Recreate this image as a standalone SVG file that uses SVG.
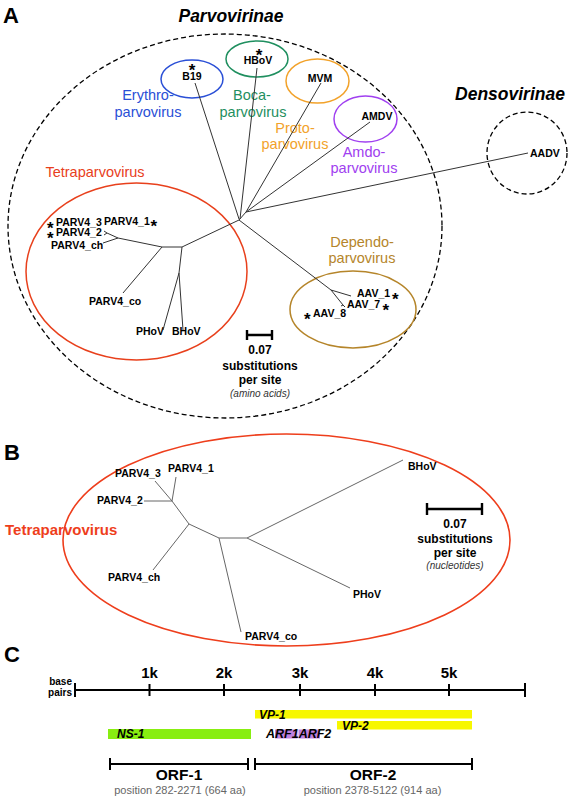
<svg xmlns="http://www.w3.org/2000/svg" width="571" height="800" viewBox="0 0 571 800">
<style>
text{font-family:"Liberation Sans",Arial,Helvetica,sans-serif}
.pl{font-size:22px;font-weight:bold}
.sub{font-size:17.5px;font-weight:bold;font-style:italic;text-anchor:middle}
.lb{font-size:10.5px;font-weight:bold}
.s{font-size:17px;font-weight:bold}
.gn{font-size:14.5px;text-anchor:middle}
.br{stroke:#333;stroke-width:1;fill:none}
.brb{stroke:#666;stroke-width:1;fill:none}
.dash{fill:none;stroke:#000;stroke-width:1.3;stroke-dasharray:5,3}
.sc{stroke:#000;stroke-width:2.4;fill:none}
.scl{font-size:12px;font-weight:bold;text-anchor:middle}
.sci{font-size:10px;font-style:italic;text-anchor:middle;fill:#333}
.ax{stroke:#000;stroke-width:2;fill:none}
.kl{font-size:15px;font-weight:bold;text-anchor:middle}
.gl{font-size:12px;font-weight:bold;font-style:italic}
.orf{font-size:15.5px;font-weight:bold;text-anchor:middle}
.pos{font-size:11px;text-anchor:middle;fill:#666}
</style>

<!-- Panel letters and titles -->
<text class="pl" x="3" y="23">A</text>
<text class="pl" x="4" y="460">B</text>
<text class="pl" x="4" y="662">C</text>

<g id="parvovirinae">
  <ellipse class="dash" cx="225" cy="226" rx="217" ry="192"/>
  <text class="sub" x="231" y="22">Parvovirinae</text>
</g>
<g id="densovirinae">
  <ellipse class="dash" cx="527" cy="153" rx="40" ry="41"/>
  <text class="sub" x="510" y="100">Densovirinae</text>
  <text class="lb" x="530" y="157">AADV</text>
</g>

<g id="erythroparvovirus">
  <ellipse cx="192" cy="79" rx="31" ry="19" fill="none" stroke="#2a4fd6" stroke-width="1.5"/>
  <text class="lb" text-anchor="middle"><tspan class="s" x="192" y="75.5">*</tspan><tspan x="192" y="80">B19</tspan></text>
  <text class="gn" x="148" y="100" fill="#2a4fd6">Erythro-</text>
  <text class="gn" x="148" y="117" fill="#2a4fd6">parvovirus</text>
</g>
<g id="bocaparvovirus">
  <ellipse cx="257" cy="59" rx="31" ry="18" fill="none" stroke="#1f8f5f" stroke-width="1.5"/>
  <text class="lb" text-anchor="middle"><tspan class="s" x="259" y="60.5">*</tspan><tspan x="258" y="64">HBoV</tspan></text>
  <text class="gn" x="252" y="100" fill="#1f8f5f">Boca-</text>
  <text class="gn" x="253" y="117" fill="#1f8f5f">parvovirus</text>
</g>
<g id="protoparvovirus">
  <ellipse cx="317.5" cy="81" rx="31.5" ry="22" fill="none" stroke="#f2a22a" stroke-width="1.5"/>
  <text class="lb" x="320" y="82" text-anchor="middle">MVM</text>
  <text class="gn" x="295" y="133" fill="#f2a22a">Proto-</text>
  <text class="gn" x="295" y="149" fill="#f2a22a">parvovirus</text>
</g>
<g id="amdoparvovirus">
  <ellipse cx="365.5" cy="119" rx="31.5" ry="23" fill="none" stroke="#a040f0" stroke-width="1.5"/>
  <text class="lb" x="377" y="120" text-anchor="middle">AMDV</text>
  <text class="gn" x="364" y="157" fill="#a040f0">Amdo-</text>
  <text class="gn" x="364" y="173" fill="#a040f0">parvovirus</text>
</g>
<g id="tetraparvovirus-a">
  <ellipse cx="136.5" cy="271.5" rx="110.5" ry="88.5" fill="none" stroke="#e8401c" stroke-width="1.5"/>
  <text class="gn" x="95" y="177" fill="#e8401c">Tetraparvovirus</text>
  <text class="lb"><tspan class="s" x="47" y="234">*</tspan><tspan x="56" y="226">PARV4_3</tspan></text>
  <text class="lb"><tspan x="104" y="225">PARV4_1</tspan><tspan class="s" x="150.5" y="231.5">*</tspan></text>
  <text class="lb"><tspan class="s" x="47" y="244">*</tspan><tspan x="56" y="236">PARV4_2</tspan></text>
  <text class="lb" x="51" y="249">PARV4_ch</text>
  <text class="lb" x="89" y="305">PARV4_co</text>
  <text class="lb" x="136" y="335">PHoV</text>
  <text class="lb" x="172" y="335">BHoV</text>
</g>
<g id="dependoparvovirus">
  <ellipse cx="353" cy="309.5" rx="63" ry="38.5" fill="none" stroke="#b5852a" stroke-width="1.5"/>
  <text class="gn" x="362" y="247" fill="#b5852a">Dependo-</text>
  <text class="gn" x="362" y="263" fill="#b5852a">parvovirus</text>
  <text class="lb"><tspan x="357" y="297">AAV_1</tspan><tspan class="s" x="392" y="305">*</tspan></text>
  <text class="lb"><tspan x="347" y="308">AAV_7</tspan><tspan class="s" x="382.5" y="316">*</tspan></text>
  <text class="lb"><tspan class="s" x="304" y="325">*</tspan><tspan x="313" y="317">AAV_8</tspan></text>
</g>
<g id="scale-a">
  <path class="sc" d="M247,335H272M247,330V340M272,330V340"/>
  <text class="scl" x="260" y="354">0.07</text>
  <text class="scl" x="260" y="370">substitutions</text>
  <text class="scl" x="260" y="384">per site</text>
  <text class="sci" x="260" y="397">(amino acids)</text>
</g>

<g id="connectors">
  <!-- panel A tree -->
  <path class="br" d="M195,83L239,219M257,68L240,219M321,83L246,212M370,122L246,212M528,153L246,212M246,212L239,220"/>
  <path class="br" d="M239,220L182,247L162,247L118,238L103,243M118,238L107,233L104,231M107,233L104,235M162,247L123,293M182,247L179,273L183,330M179,273L163,330"/>
  <path class="br" d="M239,220L331,290L351,296M331,290L343,305L341,306M343,305L345,307"/>
  <!-- panel B tree -->
  <path class="brb" d="M144,501H172L176,477M172,501L155,481M172,501L189,524L153,570M189,524L219,538L241,632M219,538H247L403,460M247,538L350,588"/>
</g>

<g id="tetraparvovirus-b">
  <ellipse cx="286.5" cy="540" rx="223.5" ry="106" fill="none" stroke="#ee3e1c" stroke-width="1.6"/>
  <text x="5" y="535" font-size="15px" font-weight="bold" fill="#ee3e1c">Tetraparvovirus</text>
  <text class="lb" x="168" y="472">PARV4_1</text>
  <text class="lb" x="115" y="477">PARV4_3</text>
  <text class="lb" x="97" y="504">PARV4_2</text>
  <text class="lb" x="108" y="581">PARV4_ch</text>
  <text class="lb" x="245" y="640">PARV4_co</text>
  <text class="lb" x="408" y="470">BHoV</text>
  <text class="lb" x="353" y="598">PHoV</text>
</g>
<g id="scale-b">
  <path class="sc" d="M427,509H482M427,503V515M482,503V515"/>
  <text class="scl" x="455" y="528">0.07</text>
  <text class="scl" x="455" y="543">substitutions</text>
  <text class="scl" x="455" y="557">per site</text>
  <text class="sci" x="455" y="569">(nucleotides)</text>
</g>

<g id="axis">
  <path class="ax" d="M75,690H525M75,683V697M149.5,684V696M224,684V696M300,684V696M375,684V696M449,684V696M525,683V697"/>
  <text class="kl" x="149.5" y="678">1k</text>
  <text class="kl" x="224" y="678">2k</text>
  <text class="kl" x="300" y="678">3k</text>
  <text class="kl" x="375" y="678">4k</text>
  <text class="kl" x="449" y="678">5k</text>
  <text x="72" y="685" font-size="10px" font-weight="bold" text-anchor="end">base</text>
  <text x="72" y="696" font-size="10px" font-weight="bold" text-anchor="end">pairs</text>
</g>
<g id="ns1">
  <rect x="108" y="729" width="143" height="10" fill="#88ee11"/>
  <text class="gl" x="117" y="738">NS-1</text>
</g>
<g id="vp1">
  <rect x="255" y="710" width="217" height="8.5" fill="#f7f700"/>
  <text class="gl" x="259" y="719">VP-1</text>
</g>
<g id="vp2">
  <rect x="337" y="721" width="135" height="8.5" fill="#f7f700"/>
  <text class="gl" x="342" y="729.5">VP-2</text>
</g>
<g id="arf">
  <rect x="275" y="729.5" width="22.5" height="9" fill="#c080e0"/>
  <rect x="298.5" y="729.5" width="21.5" height="9" fill="#c080e0"/>
  <text x="266" y="737.5" font-size="12.5px" font-weight="bold" font-style="italic">ARF1ARF2</text>
</g>
<g id="orf1">
  <path class="ax" d="M110,764H248M110,758V770M248,758V770"/>
  <text class="orf" x="179" y="780">ORF-1</text>
  <text class="pos" x="180" y="794">position 282-2271 (664 aa)</text>
</g>
<g id="orf2">
  <path class="ax" d="M255,764H472M255,758V770M472,758V770"/>
  <text class="orf" x="373" y="780">ORF-2</text>
  <text class="pos" x="372.5" y="794">position 2378-5122 (914 aa)</text>
</g>
</svg>
